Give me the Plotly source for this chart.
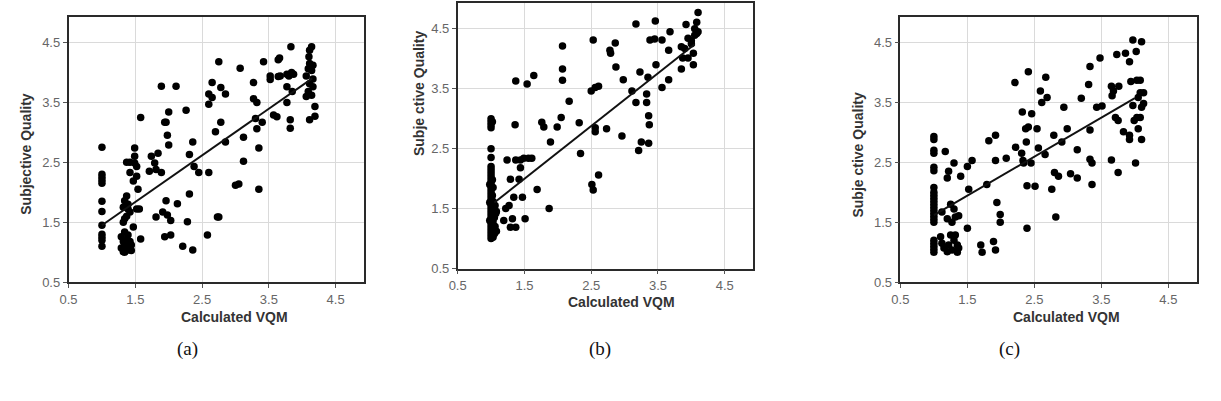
import plotly.graph_objects as go

W, H = 1221, 401

tick_values = [0.5, 1.5, 2.5, 3.5, 4.5]
tick_labels = ["0.5", "1.5", "2.5", "3.5", "4.5"]

x_title = "Calculated VQM"
y_titles = ["Subjective Quality", "Subje ctive Quality", "Subje ctive Quality"]
captions = ["(a)", "(b)", "(c)"]

# ---------------- panel (a) ----------------
a_x = [1.0, 1.0, 1.0, 1.0, 1.0, 1.0, 1.0, 1.0, 1.0, 1.0, 1.0, 1.0,
       1.29, 1.32, 1.34, 1.37, 1.39, 1.32, 1.42, 1.44, 1.34, 1.39, 1.44, 1.29, 1.37, 1.42, 1.34,
       1.37, 1.34, 1.39, 1.32, 1.42, 1.34, 1.32, 1.39, 1.37,
       1.37, 1.42, 1.49, 1.49, 1.49, 1.52, 1.47, 1.54, 1.52, 1.42, 1.52, 1.47, 1.58, 1.58, 1.56,
       1.71, 1.74, 1.79, 1.84, 1.81, 1.89, 1.81, 1.89, 1.91, 1.94, 1.96, 1.98, 2.0, 2.0, 1.96,
       1.98, 2.03, 1.94, 2.03, 2.11, 2.13, 2.21, 2.26, 2.31, 2.31, 2.28, 2.36, 2.36, 2.38, 2.45,
       2.58, 2.6, 2.6, 2.6, 2.65, 2.65, 2.7, 2.73, 2.75, 2.75, 2.78, 2.78, 2.85, 2.85, 3.07,
       3.0, 3.05, 3.12, 3.12, 3.27, 3.27, 3.3, 3.32, 3.32, 3.35, 3.35, 3.4, 3.42,
       4.14, 4.11, 4.1, 4.11, 4.16, 4.09, 4.14, 4.06, 4.16, 4.11, 4.16, 4.09, 4.14, 4.19, 4.11,
       4.19, 4.06, 3.83, 3.8, 3.87, 3.77, 3.85, 3.77, 3.82, 3.82, 3.64, 3.64, 3.52, 3.52, 3.57,
       3.62, 3.66, 3.67, 3.77, 3.84]
a_y = [2.75, 2.3, 2.25, 2.2, 2.15, 1.85, 1.68, 1.45, 1.3, 1.25, 1.2, 1.1,
       1.07, 1.01, 1.12, 1.2, 1.29, 1.18, 1.07, 1.12, 1.0, 1.04, 1.03, 1.26, 1.1, 1.18, 1.34,
       1.94, 1.86, 1.8, 1.75, 1.67, 1.56, 1.5, 1.72, 1.6,
       2.5, 2.5, 2.74, 2.6, 2.49, 2.43, 2.19, 2.05, 1.72, 2.33, 2.27, 1.42, 1.22, 3.25, 1.72,
       2.35, 2.6, 2.49, 2.65, 2.38, 2.33, 1.59, 3.77, 1.67, 3.17, 3.17, 2.95, 2.79, 3.34, 1.86,
       1.62, 1.53, 1.26, 1.29, 3.77, 1.81, 1.1, 3.37, 2.63, 1.97, 1.51, 2.84, 1.04, 2.43, 2.33,
       1.29, 2.33, 3.47, 3.64, 3.83, 3.58, 3.01, 1.59, 1.59, 4.18, 3.75, 3.17, 3.64, 2.84, 4.07,
       2.12, 2.14, 2.92, 2.52, 3.83, 3.56, 3.23, 3.5, 3.06, 2.74, 2.05, 3.17, 4.18,
       4.43, 4.37, 4.26, 4.15, 4.12, 4.06, 4.03, 3.94, 3.89, 3.81, 3.76, 3.68, 3.62, 3.43, 3.21,
       3.27, 3.6, 4.43, 3.94, 3.97, 3.76, 3.68, 3.5, 3.21, 3.07, 4.21, 3.93, 3.94, 3.88, 3.29,
       3.26, 4.24, 3.94, 3.97, 4.0]
a_fit_x = [1.0, 4.15]
a_fit_y = [1.45, 3.9]

# ---------------- panel (b) ----------------
b_x = [1.0, 1.0, 1.0, 1.0, 1.0, 1.0, 1.0, 1.0, 1.0, 1.0, 1.0, 1.0, 1.0, 1.0, 1.0, 1.0,
       1.0, 1.0, 1.0, 1.0, 1.0, 1.0, 1.0, 1.0, 1.0, 1.0, 1.0, 1.0, 1.0, 1.0, 1.0,
       1.03, 1.05, 1.04, 1.06, 1.03, 1.05, 1.07, 1.04, 1.06, 1.03, 1.02, 1.03, 1.02, 1.08,
       1.08, 0.98, 0.98, 0.98, 1.02,
       1.24, 1.27, 1.22, 1.19, 1.32, 1.29, 1.37, 1.34, 1.47, 1.29, 1.42, 1.37, 1.44, 1.44,
       1.49, 1.56, 1.61, 1.51, 1.37, 1.36, 1.54, 1.64, 1.69, 1.76, 1.79, 1.89, 1.87, 1.99,
       2.05, 2.07, 2.07, 2.07, 2.17, 2.32, 2.34, 2.5, 2.53, 2.56, 2.61, 2.51, 2.53, 2.61,
       2.56, 2.56, 2.73, 2.78, 2.79, 2.86, 2.87, 2.96, 2.98, 3.11, 3.17, 3.17, 3.21, 3.25,
       3.23, 3.33, 3.33, 3.36, 3.37, 3.36, 3.35, 3.38, 3.46, 3.45, 3.47, 3.56, 3.56, 3.66,
       3.68, 3.66, 3.85, 3.85, 3.9, 3.92, 3.95, 3.95, 4.03, 4.03, 4.0, 4.05, 4.05, 4.08,
       4.1, 4.08, 4.1, 4.0, 3.87]
b_y = [3.0, 2.95, 2.9, 2.85, 2.5, 2.35, 2.2, 2.15, 2.1, 2.05, 2.0, 1.95, 1.9, 1.85, 1.8, 1.75,
       1.7, 1.65, 1.6, 1.55, 1.5, 1.45, 1.4, 1.35, 1.3, 1.25, 1.2, 1.15, 1.1, 1.05, 1.0,
       1.02, 1.08, 1.15, 1.2, 1.28, 1.35, 1.42, 1.48, 1.55, 1.62, 1.72, 1.85, 1.98, 1.12,
       1.45, 1.6, 1.3, 1.9, 2.95,
       2.31, 1.55, 1.5, 1.3, 1.33, 1.19, 1.19, 1.69, 1.69, 1.99, 1.99, 2.31, 2.31, 2.18,
       2.34, 2.34, 2.34, 1.33, 3.63, 2.9, 3.58, 3.72, 1.82, 2.94, 2.86, 2.61, 1.5, 2.86,
       3.02, 4.21, 3.83, 3.64, 3.29, 2.93, 2.42, 3.46, 4.31, 3.52, 3.54, 1.9, 1.81, 2.06,
       2.85, 2.78, 2.83, 4.14, 4.09, 4.26, 3.86, 2.71, 3.65, 3.46, 4.58, 3.27, 2.47, 2.61,
       3.78, 3.41, 3.27, 3.05, 2.9, 2.59, 3.69, 4.31, 4.63, 4.33, 3.9, 4.31, 3.52, 3.65,
       4.45, 4.14, 3.83, 4.2, 4.17, 4.57, 4.34, 4.01, 3.9, 4.09, 4.25, 4.39, 4.5, 4.61,
       4.77, 4.42, 4.45, 4.3, 4.01]
b_fit_x = [1.05, 4.05]
b_fit_y = [1.6, 4.24]

# ---------------- panel (c) ----------------
c_x = [1.0, 1.0, 1.0, 1.0, 1.0, 1.0, 1.0, 1.0, 1.0, 1.0, 1.0, 1.0, 1.0, 1.0, 1.0, 1.0,
       1.0, 1.0, 1.0, 1.0, 1.0, 1.0, 1.0,
       1.1, 1.15, 1.2, 1.22, 1.25, 1.3, 1.35, 1.35, 1.12, 1.27, 1.32, 1.37,
       1.17, 1.2, 1.22, 1.3, 1.4, 1.5, 1.57, 1.52, 1.5, 1.12, 1.2, 1.25, 1.3, 1.32, 1.37, 1.27,
       1.7, 1.72, 1.79, 1.82, 1.92, 1.92, 1.94, 1.89, 1.92, 1.99, 1.99, 2.08, 2.21, 2.22,
       2.32, 2.31, 2.33, 2.34, 2.37, 2.38, 2.39, 2.39, 2.41, 2.41, 2.45, 2.46, 2.51, 2.54,
       2.56, 2.59, 2.61, 2.66, 2.67, 2.69, 2.76, 2.79, 2.8, 2.82, 2.86, 2.91, 2.94, 2.99,
       3.04, 3.14, 3.14, 3.2, 3.31, 3.33, 3.33, 3.33, 3.36, 3.36, 3.43, 3.51, 3.48, 3.65,
       3.65, 3.66, 3.68, 3.71, 3.75, 3.76, 3.73, 3.75, 3.83, 3.86, 3.92, 3.92, 3.94, 3.97,
       4.01, 3.99, 4.02, 3.97, 4.03, 4.08, 4.1, 4.08, 4.13, 4.1, 4.13, 4.08, 4.05, 4.1,
       4.03, 4.05, 3.92]
c_y = [2.93, 2.88, 2.7, 2.65, 2.42, 2.36, 2.08, 2.0, 1.95, 1.9, 1.85, 1.8, 1.75, 1.7, 1.65, 1.6,
       1.55, 1.5, 1.2, 1.15, 1.1, 1.05, 1.0,
       1.26, 1.07, 1.01, 1.12, 1.29, 1.2, 1.12, 1.0, 1.15, 1.04, 1.29, 1.07,
       2.68, 2.24, 2.35, 2.49, 2.27, 2.43, 2.53, 2.05, 1.4, 1.67, 1.56, 1.8, 1.72, 1.59, 1.61, 1.5,
       1.12, 1.0, 2.13, 2.86, 2.95, 2.53, 1.83, 1.18, 1.04, 1.63, 1.5, 2.57, 3.83, 2.75,
       3.34, 2.65, 2.53, 2.49, 3.06, 2.84, 2.11, 1.4, 4.01, 3.09, 2.49, 3.31, 2.1, 3.06,
       2.74, 3.69, 3.5, 2.63, 3.92, 3.58, 2.05, 2.95, 2.33, 1.59, 2.27, 2.84, 3.42, 3.06,
       2.31, 2.24, 2.71, 3.57, 3.8, 4.1, 3.04, 2.55, 2.49, 2.13, 3.42, 3.44, 4.24, 2.54,
       3.77, 3.61, 3.69, 3.25, 3.2, 3.77, 4.3, 2.33, 3.01, 4.32, 2.88, 4.18, 3.85, 4.54,
       2.49, 3.2, 4.35, 3.45, 3.87, 3.87, 4.51, 3.66, 3.66, 3.42, 3.48, 3.25, 3.06, 2.88,
       3.25, 3.58, 2.95]
c_fit_x = [1.0, 4.0]
c_fit_y = [1.62, 3.57]

panels = [(a_x, a_y, a_fit_x, a_fit_y), (b_x, b_y, b_fit_x, b_fit_y), (c_x, c_y, c_fit_x, c_fit_y)]

# plot rectangles in pixels: left, right, top, bottom
rects = [(60, 358, 17, 288), (452, 750, 3, 274), (898, 1197, 17, 288)]
xtitle_pos = [(227, 323), (617, 308), (1065, 323)]
ytitle_pos = [(17, 157), (413, 95), (855, 158)]
caption_pos = [(180, 356), (595, 356), (1008, 356)]

fig = go.Figure()
layout = dict(width=W, height=H, margin=dict(l=0, r=0, t=0, b=0),
              paper_bgcolor="white", plot_bgcolor="white", showlegend=False)

def axis_common():
    return dict(range=[0.5, 4.93], tickvals=tick_values, ticktext=tick_labels,
                showgrid=True, gridcolor="#dadada", gridwidth=1, zeroline=False,
                showline=True, linecolor="#2a2a2a", linewidth=1.5, mirror=True,
                ticks="outside", ticklen=4, tickwidth=1, tickcolor="#555",
                tickfont=dict(family="Arial", size=13, color="#666"), fixedrange=True)

annotations = []
for i, (px, py, fx, fy) in enumerate(panels):
    n = "" if i == 0 else str(i + 1)
    l, r, t, b = rects[i]
    xa = axis_common()
    xa["domain"] = [l / W, r / W]
    xa["anchor"] = "y" + n
    ya = axis_common()
    ya["domain"] = [1 - b / H, 1 - t / H]
    ya["anchor"] = "x" + n
    layout["xaxis" + n] = xa
    layout["yaxis" + n] = ya
    fig.add_trace(go.Scatter(x=px, y=py, mode="markers", xaxis="x" + n, yaxis="y" + n,
                             marker=dict(color="black", size=7.5, line=dict(width=0))))
    fig.add_trace(go.Scatter(x=fx, y=fy, mode="lines", xaxis="x" + n, yaxis="y" + n,
                             line=dict(color="#111", width=2)))
    tx, ty = xtitle_pos[i]
    annotations.append(dict(text=x_title, x=tx / W, y=1 - ty / H, xref="paper", yref="paper",
                            showarrow=False, xanchor="center", yanchor="middle",
                            font=dict(family="Arial", size=14, color="#333", weight="bold")))
    yx, yy = ytitle_pos[i]
    annotations.append(dict(text=y_titles[i], x=yx / W, y=1 - yy / H, xref="paper", yref="paper",
                            showarrow=False, xanchor="center", yanchor="middle", textangle=-90,
                            font=dict(family="Arial", size=14, color="#333", weight="bold")))
    cx, cy = caption_pos[i]
    annotations.append(dict(text=captions[i], x=cx / W, y=1 - cy / H, xref="paper", yref="paper",
                            showarrow=False, xanchor="center", yanchor="middle",
                            font=dict(family="Liberation Serif", size=19, color="#111")))

layout["annotations"] = annotations
fig.update_layout(**layout)
fig.write_html("out.html")
